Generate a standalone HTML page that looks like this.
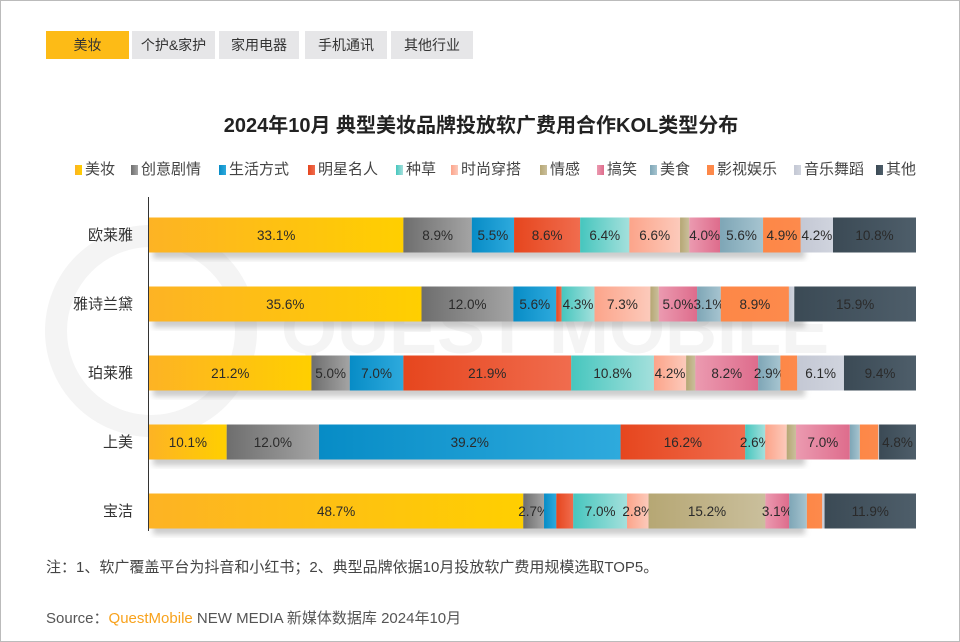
<!DOCTYPE html>
<html><head><meta charset="utf-8">
<style>
body{margin:0;background:#fff;font-family:"Liberation Sans","Noto Sans CJK SC",sans-serif;}
#frame{position:absolute;left:0;top:0;width:958px;height:640px;border:1px solid #bbb;overflow:hidden;background:#fff}
.tab{position:absolute;top:30px;height:28px;line-height:28px;text-align:center;font-size:14px;color:#333;background:#e6e6e8}
.tab.on{background:#fdbb16;}
#title{position:absolute;top:108px;left:0;width:960px;text-align:center;font-size:20px;font-weight:bold;color:#222}
.lg{position:absolute;top:157px;font-size:15px;color:#444;white-space:nowrap}
.lg i{display:inline-block;width:7px;height:10px;margin-right:3px;vertical-align:-1px}
.note{position:absolute;left:45px;font-size:15px;color:#444;white-space:nowrap}
</style></head><body>
<div id="frame">
<div class="tab on" style="left:45px;width:83px">美妆</div>
<div class="tab" style="left:131px;width:83px">个护&amp;家护</div>
<div class="tab" style="left:218px;width:80px">家用电器</div>
<div class="tab" style="left:304px;width:82px">手机通讯</div>
<div class="tab" style="left:390px;width:82px">其他行业</div>
<div id="title">2024年10月 典型美妆品牌投放软广费用合作KOL类型分布</div>
<div id="legend"></div>
<svg id="chart" width="960" height="642" style="position:absolute;left:0;top:0"></svg>
<div class="note" style="top:555px">注：1、软广覆盖平台为抖音和小红书；2、典型品牌依据10月投放软广费用规模选取TOP5。</div>
<div class="note" style="top:606px;color:#555">Source：<span style="color:#f8a21c">QuestMobile</span> NEW MEDIA 新媒体数据库 2024年10月</div>
</div>
<script>
const categories=["欧莱雅","雅诗兰黛","珀莱雅","上美","宝洁"];
const seriesNames=["美妆","创意剧情","生活方式","明星名人","种草","时尚穿搭","情感","搞笑","美食","影视娱乐","音乐舞蹈","其他"];
const sLoreal=[33.1,8.9,5.5,8.6,6.4,6.6,1.2,4.0,5.6,4.9,4.2,10.8];
const sEstee=[35.6,12.0,5.6,0.7,4.3,7.3,1.1,5.0,3.1,8.9,0.7,15.9];
const sProya=[21.2,5.0,7.0,21.9,10.8,4.2,1.2,8.2,2.9,2.2,6.1,9.4];
const sChando=[10.1,12.0,39.2,16.2,2.6,2.8,1.2,7.0,1.3,2.4,0.1,4.8];
const sPG=[48.7,2.7,1.6,2.2,7.0,2.8,15.2,3.1,2.3,2.0,0.3,11.9];
const rows=[sLoreal,sEstee,sProya,sChando,sPG];
const lLoreal=[1,1,1,1,1,1,0,1,1,1,1,1];
const lEstee=[1,1,1,0,1,1,0,1,1,1,0,1];
const lProya=[1,1,1,1,1,1,0,1,1,0,1,1];
const lChando=[1,1,1,1,1,0,0,1,0,0,0,1];
const lPG=[1,1,0,0,1,1,1,1,0,0,0,1];
const labelRows=[lLoreal,lEstee,lProya,lChando,lPG];
const colors=[["#fdb324","#ffcf00"],["#6e6e6e","#a4a4a4"],["#078cc6","#2eaadd"],["#e6461e","#f06c4e"],["#46c6be","#a4e0dc"],["#fca48a","#fccabb"],["#b6a774","#cabf9c"],["#eb9ab0","#de6c8c"],["#7ea6b6","#a6c4d0"],["#fd8747","#fd8a4c"],["#c4c8d4","#d0d4de"],["#3b4a55","#4e5e6a"]];
const NS="http://www.w3.org/2000/svg";
const svg=document.getElementById('chart');
const x0=148,x1=915,rowY0=234,rowStep=69,barH=35;
function yPos(i){return rowY0+i*rowStep;}
let defs=document.createElementNS(NS,'defs');
colors.forEach((c,k)=>{const g=document.createElementNS(NS,'linearGradient');g.setAttribute('id','g'+k);
c.forEach((cc,j)=>{const s=document.createElementNS(NS,'stop');s.setAttribute('offset',j);s.setAttribute('stop-color',cc);g.appendChild(s);});defs.appendChild(g);});
const f=document.createElementNS(NS,'filter');f.setAttribute('id','sh');f.innerHTML='<feGaussianBlur stdDeviation="3"/>';defs.appendChild(f);
svg.appendChild(defs);
const circ=document.createElementNS(NS,'circle');circ.setAttribute('cx',150);circ.setAttribute('cy',330);circ.setAttribute('r',95);circ.setAttribute('fill','none');circ.setAttribute('stroke','#f4f4f4');circ.setAttribute('stroke-width',22);


svg.appendChild(circ);
const wm=document.createElementNS(NS,'text');wm.setAttribute('x',280);wm.setAttribute('y',352);wm.setAttribute('font-size',72);wm.setAttribute('font-weight','bold');wm.setAttribute('fill','#f4f4f4');wm.setAttribute('font-family','Liberation Sans');wm.textContent='QUEST MOBILE';


svg.appendChild(wm);
const ax=document.createElementNS(NS,'line');ax.setAttribute('x1',147.5);ax.setAttribute('x2',147.5);ax.setAttribute('y1',196);ax.setAttribute('y2',530);ax.setAttribute('stroke','#333');


svg.appendChild(ax);
rows.forEach((vals,i)=>{
  const tot=vals.reduce((a,b)=>a+b,0);
  const sc=v=>v/tot*(x1-x0);
  const yc=yPos(i),yt=yc-barH/2;
  const shd=document.createElementNS(NS,'rect');shd.setAttribute('x',x0+4);shd.setAttribute('y',yt+6);shd.setAttribute('width',(x1-x0)*0.85);shd.setAttribute('height',barH);shd.setAttribute('fill','#999');shd.setAttribute('opacity','0.5');shd.setAttribute('filter','url(#sh)');svg.appendChild(shd);
  const lab=document.createElementNS(NS,'text');lab.setAttribute('x',x0-16);lab.setAttribute('y',yc+5);lab.setAttribute('text-anchor','end');lab.setAttribute('font-size',15);lab.setAttribute('fill','#333');lab.textContent=categories[i];
  
  
  svg.appendChild(lab);
  let cx=x0;
  vals.forEach((v,k)=>{
    const w=sc(v);
    const r=document.createElementNS(NS,'rect');r.setAttribute('x',cx);r.setAttribute('y',yt);r.setAttribute('width',w);r.setAttribute('height',barH);r.setAttribute('fill','url(#g'+k+')');
    
    
    svg.appendChild(r);
    if(labelRows[i][k]){const t=document.createElementNS(NS,'text');t.setAttribute('x',cx+w/2);t.setAttribute('y',yc+5);t.setAttribute('text-anchor','middle');t.setAttribute('font-size',13.5);t.setAttribute('fill','#2a2a2a');t.textContent=v.toFixed(1)+'%';
      
      
      svg.appendChild(t);}
    cx+=w;
  });
});
const lgX=[77,133,221,310,398,453,542,599,652,709,796,878];
const lg=document.getElementById('legend');
seriesNames.forEach((n,k)=>{const d=document.createElement('div');d.className='lg';d.style.left=(lgX[k]-3)+'px';
d.innerHTML='<i style="background:linear-gradient(90deg,'+colors[k][0]+','+colors[k][1]+')"></i>'+n;


lg.appendChild(d);});
</script>
</body></html>
